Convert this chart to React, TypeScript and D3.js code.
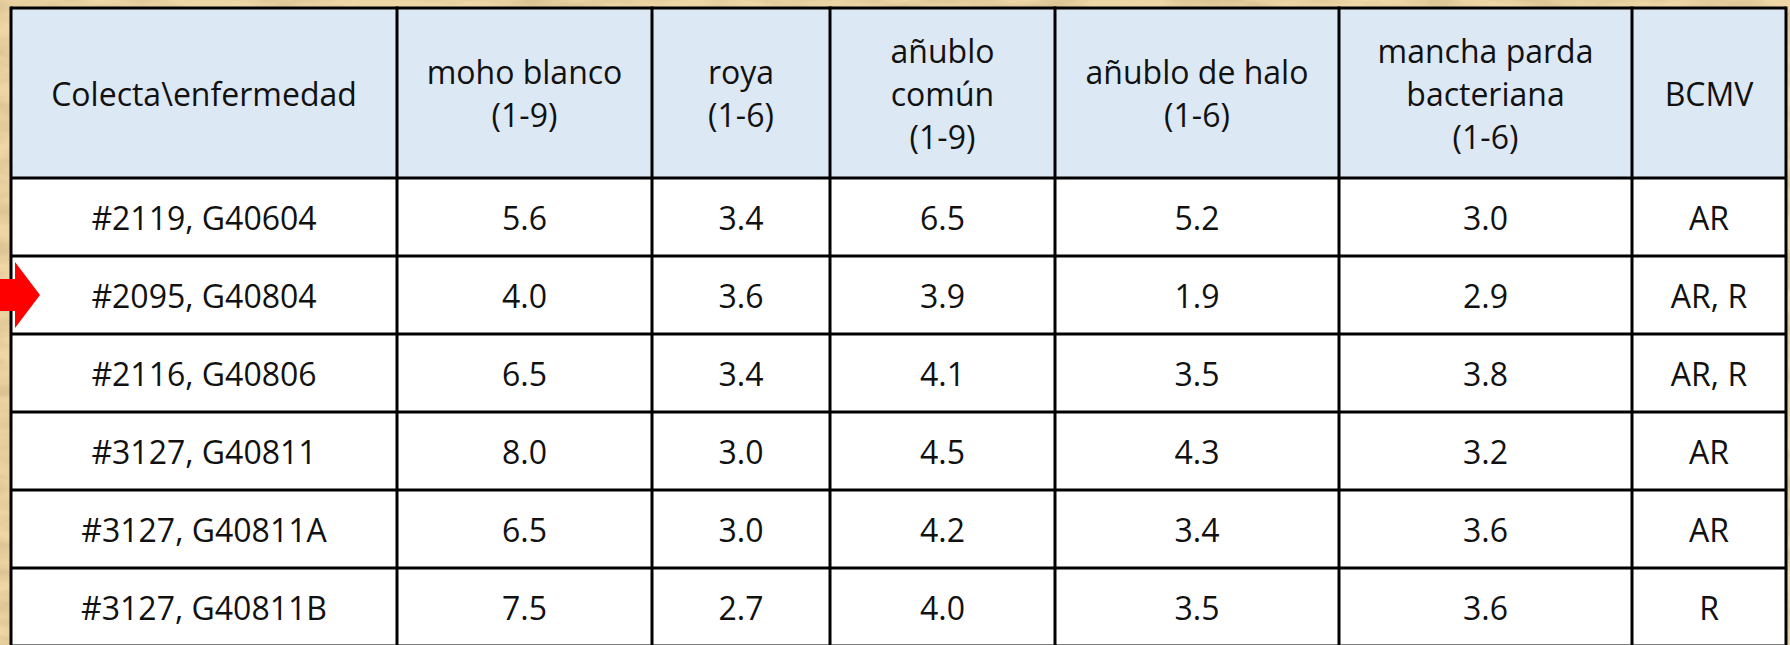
import React from "react";
import * as d3 from "d3";

const headers: string[][] = [
  ["Colecta\\enfermedad"],
  ["moho blanco", "(1-9)"],
  ["roya", "(1-6)"],
  ["añublo", "común", "(1-9)"],
  ["añublo de halo", "(1-6)"],
  ["mancha parda", "bacteriana", "(1-6)"],
  ["BCMV"],
];
const collections = [
  "#2119, G40604",
  "#2095, G40804",
  "#2116, G40806",
  "#3127, G40811",
  "#3127, G40811A",
  "#3127, G40811B",
];
const mohoBlanco = ["5.6", "4.0", "6.5", "8.0", "6.5", "7.5"];
const roya = ["3.4", "3.6", "3.4", "3.0", "3.0", "2.7"];
const anubloComun = ["6.5", "3.9", "4.1", "4.5", "4.2", "4.0"];
const anubloHalo = ["5.2", "1.9", "3.5", "4.3", "3.4", "3.5"];
const manchaParda = ["3.0", "2.9", "3.8", "3.2", "3.6", "3.6"];
const bcmv = ["AR", "AR, R", "AR, R", "AR", "AR", "R"];
const highlighted = "#2095, G40804";

const W = 1790;
const H = 645;
const colEdges = [11, 397, 652, 830, 1055, 1339, 1632, 1786];
const tableTop = 8;
const headerBottom = 178;
const rowH = 78;
const FONT = "'Open Sans', 'Noto Sans', sans-serif";
const FS = 32;
const LINE = 43;

export default function App() {
  const columns = [collections, mohoBlanco, roya, anubloComun, anubloHalo, manchaParda, bcmv];
  const y = d3
    .scaleBand<string>()
    .domain(collections)
    .range([headerBottom, headerBottom + rowH * collections.length])
    .padding(0);
  const cx = (i: number) => (colEdges[i] + colEdges[i + 1]) / 2;
  const headerMid = (tableTop + headerBottom) / 2;
  const tableBottom = headerBottom + rowH * collections.length;
  const ay = (y(highlighted) ?? 0) + rowH / 2;

  return (
    <svg
      width={W}
      height={H}
      style={{ position: "absolute", left: 0, top: 0, display: "block" }}
    >
      <defs>
        <filter id="parch" x="0" y="0" width="100%" height="100%">
          <feTurbulence type="fractalNoise" baseFrequency="0.012 0.05" numOctaves={4} seed={3} result="n" />
          <feColorMatrix
            in="n"
            type="matrix"
            values="0 0 0 0 0.55  0 0 0 0 0.40  0 0 0 0 0.20  0 0 0 -1.6 1.05"
            result="c"
          />
          <feComposite in="c" in2="SourceGraphic" operator="in" />
        </filter>
      </defs>
      <rect x={0} y={0} width={W} height={H} fill="#eed6a6" />
      <rect x={0} y={0} width={W} height={H} fill="#eed6a6" filter="url(#parch)" opacity={0.7} />

      <rect
        x={colEdges[0]}
        y={tableTop}
        width={colEdges[colEdges.length - 1] - colEdges[0]}
        height={headerBottom - tableTop}
        fill="#dde8f5"
      />
      <rect
        x={colEdges[0]}
        y={headerBottom}
        width={colEdges[colEdges.length - 1] - colEdges[0]}
        height={tableBottom - headerBottom}
        fill="#ffffff"
      />

      {headers.map((lines, i) => (
        <text
          key={"h" + i}
          x={cx(i)}
          textAnchor="middle"
          fontFamily={FONT}
          fontSize={FS}
          fill="#111"
        >
          {lines.map((l, k) => (
            <tspan
              key={k}
              x={cx(i)}
              y={headerMid + (k - (lines.length - 1) / 2) * LINE}
              dominantBaseline="central"
            >
              {l}
            </tspan>
          ))}
        </text>
      ))}

      {collections.map((c, r) =>
        columns.map((col, i) => (
          <text
            key={"c" + r + "-" + i}
            x={cx(i)}
            y={(y(c) ?? 0) + rowH / 2}
            textAnchor="middle"
            dominantBaseline="central"
            fontFamily={FONT}
            fontSize={FS}
            fill="#111"
          >
            {col[r]}
          </text>
        ))
      )}

      <g stroke="#000" strokeWidth={3}>
        <line x1={colEdges[0]} x2={colEdges[colEdges.length - 1]} y1={tableTop} y2={tableTop} />
        <line x1={colEdges[0]} x2={colEdges[colEdges.length - 1]} y1={headerBottom} y2={headerBottom} />
        {collections.map((c) => (
          <line
            key={"r" + c}
            x1={colEdges[0]}
            x2={colEdges[colEdges.length - 1]}
            y1={(y(c) ?? 0) + rowH}
            y2={(y(c) ?? 0) + rowH}
          />
        ))}
        {colEdges.map((x, i) => (
          <line key={"v" + i} x1={x} x2={x} y1={tableTop - 1.5} y2={tableBottom} />
        ))}
      </g>

      <path
        d={`M0,${ay - 16} L15,${ay - 16} L15,${ay - 33} L40,${ay} L15,${ay + 33} L15,${ay + 16} L0,${ay + 16} Z`}
        fill="#ff0000"
      />
    </svg>
  );
}
